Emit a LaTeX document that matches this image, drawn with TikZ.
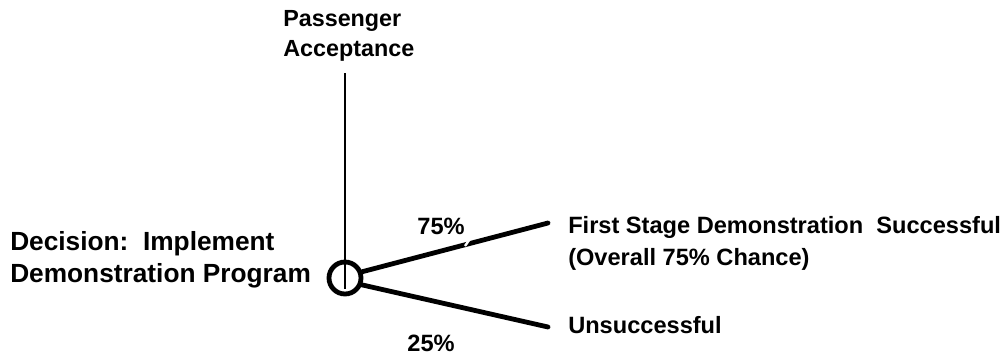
\documentclass[tikz,border=0pt]{standalone}
\usepackage{fontspec}
\setmainfont{Liberation Sans}
\usetikzlibrary{arrows.meta}

\begin{document}
\begin{tikzpicture}[x=0.75pt, y=-0.75pt, font=\bfseries\fontsize{17.7}{24}\selectfont,
    branch/.style={line width=3.6pt, line cap=round},
    lbl/.style={align=left, inner sep=0pt}]
        \useasboundingbox (0,0) rectangle (1004,357);
        \node[circle, draw, line width=3.6pt, minimum size=24pt, inner sep=0pt] (dec) at (345,278) {};
        \node[lbl, anchor=base west, font=\bfseries\fontsize{17.5}{22.5}\selectfont] (pass) at (283,56) {Passenger\\Acceptance};
        \node[lbl, anchor=base west, font=\bfseries\fontsize{19.7}{24}\selectfont] (decl) at (10,282) {Decision:\ \ Implement\\Demonstration Program};
        % branch end points
        \coordinate (s1) at (548,223);
        \coordinate (s2) at (548,327);
        \coordinate (top) at (345,73);
        \draw[line width=2pt] (top) -- ([yshift=-8pt]dec.center);
        \draw[branch] (dec.20) -- (s1);
        \draw[branch] (dec.-22) -- (s2);
        \draw[white, line width=1.8pt] (465,246) -- (474,233); % break in the line
        \node[lbl, anchor=base west] (succ) at (568,265) {First Stage Demonstration\ \ Successful\\(Overall 75\% Chance)};
        \node[lbl, anchor=base west] (fail) at (568,333) {Unsuccessful};
        \node[anchor=base] (p75) at (441,234) {75\%};
        \node[anchor=base] (p25) at (431,351) {25\%};
    \end{tikzpicture}
\end{document}
